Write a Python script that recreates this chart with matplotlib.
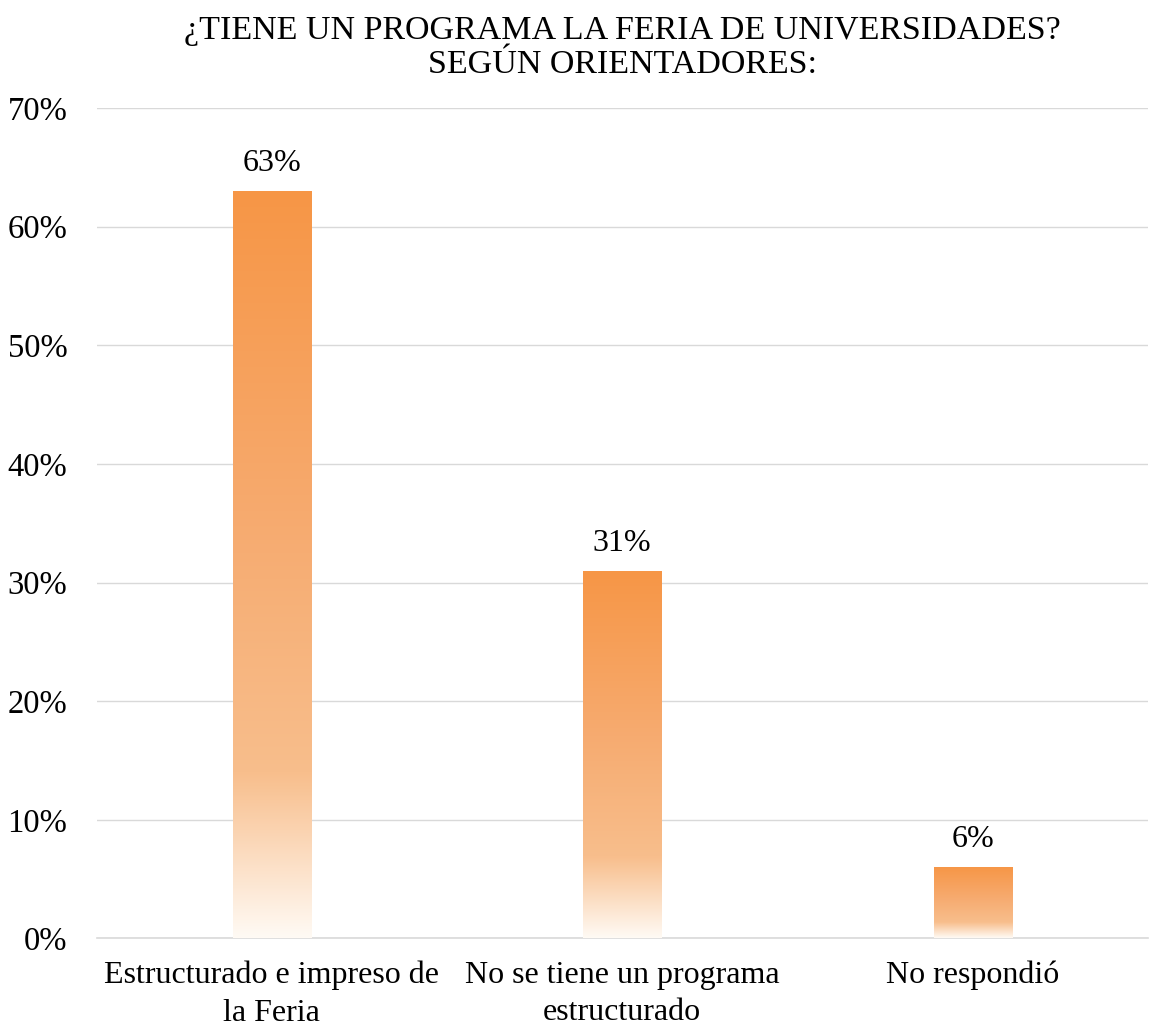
import matplotlib.pyplot as plt
import numpy as np
from matplotlib.colors import LinearSegmentedColormap

plt.rcParams['font.family'] = ['Liberation Serif', 'DejaVu Serif']

# Data
categories = ["Estructurado e impreso de\nla Feria", "No se tiene un programa\nestructurado", "No respondió"]
values = [63, 31, 6]
yticks = [0, 10, 20, 30, 40, 50, 60, 70]

fig, ax = plt.subplots(figsize=(11.49, 10.29), dpi=100)
fig.subplots_adjust(left=0.084, right=0.999, top=0.895, bottom=0.088)

x = np.arange(len(categories))
bars = ax.bar(x, values, width=0.223, color='none', edgecolor='none', zorder=3)

# Gradient fill for each bar (light at the bottom, orange at top)
cmap = LinearSegmentedColormap.from_list(
    'fade', [(0.0, '#FFFAF4'), (0.22, '#F8BE8C'), (0.55, '#F6AB70'), (1.0, '#F79646')])
grad = np.linspace(0, 1, 256).reshape(-1, 1)
for b in bars:
    x0, y0 = b.get_x(), b.get_y()
    w, h = b.get_width(), b.get_height()
    im = ax.imshow(grad, cmap=cmap, origin='lower', aspect='auto',
                   extent=(x0, x0 + w, y0, y0 + h), zorder=3)
    im.set_clip_path(b)

# Value labels
for xi, v in zip(x, values):
    ax.text(xi, v + 1.1, f"{v}%", ha='center', va='bottom', fontsize=23, color='#000000')

ax.set_xlim(-0.5, 2.5)
ax.set_ylim(0, 70)
ax.set_yticks(yticks)
ax.set_yticklabels([f"{t}%" for t in yticks], fontsize=23.5)
ax.set_xticks(x)
ax.set_xticklabels(categories, fontsize=23, linespacing=1.4)
ax.tick_params(axis='y', length=0, pad=21)
ax.tick_params(axis='x', length=0, pad=16)

ax.grid(True, axis='y', color='#D9D9D9', linewidth=1, zorder=0)
ax.set_axisbelow(True)
for s in ['top', 'right', 'left']:
    ax.spines[s].set_visible(False)
ax.spines['bottom'].set_color('#D9D9D9')
ax.spines['bottom'].set_linewidth(1.2)

ax.set_title("¿TIENE UN PROGRAMA LA FERIA DE UNIVERSIDADES?\nSEGÚN ORIENTADORES:",
             fontsize=24.5, pad=25, linespacing=1.15)

plt.savefig("out.png", dpi=100)
